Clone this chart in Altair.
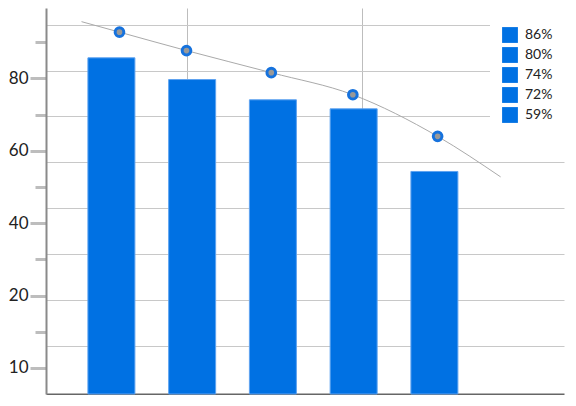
import altair as alt
import pandas as pd

# ---- data ----
legend_labels = ["86%", "80%", "74%", "72%", "59%"]
bar_pos = [1, 2, 3, 4, 5]
bar_values = [85.7, 79.7, 74.1, 71.6, 54.3]

line_x = [0.63, 1.10, 1.93, 2.98, 3.99, 5.04, 5.82]
line_y = [95.7, 92.8, 87.7, 81.6, 75.5, 64.0, 52.8]

point_x = [1.10, 1.93, 2.98, 3.99, 5.04]
point_y = [92.8, 87.7, 81.6, 75.5, 64.0]

major_ticks = [0, 20, 40, 60, 80]
major_labels = ["10", "20", "40", "60", "80"]
minor_ticks = [10, 30, 50, 70, 90]

hgrid_values = [94.9, 82.1, 69.6, 56.8, 44.3, 31.5, 18.9, 6.1]
vgrid_values = [1.93, 4.10]

y_domain = [-7.2, 99.47]
x_domain = [0.19, 6.605]

BLUE = "#0071e3"

bars_df = pd.DataFrame({"pos": bar_pos, "value": bar_values, "label": legend_labels})
line_df = pd.DataFrame({"x": line_x, "y": line_y})
pts_df = pd.DataFrame({"x": point_x, "y": point_y})

xs = alt.Scale(domain=x_domain, nice=False, zero=False, padding=0)
ys = alt.Scale(domain=y_domain, nice=False, zero=False)

label_expr = " : ".join(
    [f"datum.value === {v} ? '{l}'" for v, l in zip(major_ticks, major_labels)]
) + " : ''"

main_y_axis = alt.Axis(
    orient="left",
    values=sorted(major_ticks + minor_ticks),
    labelExpr=label_expr,
    tickSize={"condition": {"test": "datum.value % 20 === 0", "value": 16}, "value": 11},
    tickColor="#bdbdbd",
    tickWidth=3,
    domainColor="#8a8a8a",
    domainWidth=2,
    grid=False,
    labelFont="Lato",
    labelFontSize=17,
    labelColor="#222222",
    labelPadding=2,
    minExtent=0,
    title=None,
)

main_x_axis = alt.Axis(
    orient="bottom",
    domain=True,
    domainColor="#666666",
    domainWidth=2,
    ticks=False,
    labels=False,
    grid=False,
    minExtent=0,
    title=None,
)

grid_y_axis = alt.Axis(
    orient="right",
    values=hgrid_values,
    grid=True,
    gridColor="#c8c8c8",
    gridWidth=1,
    domain=False,
    ticks=False,
    labels=False,
    minExtent=0,
    title=None,
)

grid_x_axis = alt.Axis(
    orient="top",
    values=vgrid_values,
    grid=True,
    gridColor="#bdbdbd",
    gridWidth=1,
    domain=False,
    ticks=False,
    labels=False,
    minExtent=0,
    title=None,
)

bars = alt.Chart(bars_df).mark_bar(
    size=47, stroke="#5ea3f0", strokeWidth=1
).encode(
    x=alt.X("pos:Q", scale=xs, axis=main_x_axis),
    y=alt.Y("value:Q", scale=ys, axis=main_y_axis),
    y2=alt.datum(y_domain[0]),
    color=alt.Color(
        "label:N",
        scale=alt.Scale(domain=legend_labels, range=[BLUE] * len(legend_labels)),
        sort=legend_labels,
        legend=alt.Legend(
            orient="none",
            legendX=444,
            legendY=7,
            fillColor="white",
            padding=12,
            symbolType="square",
            symbolSize=250,
            symbolStrokeWidth=0,
            symbolOpacity=1,
            labelFont="Lato",
            labelFontSize=14,
            labelColor="#222222",
            labelOffset=7,
            rowPadding=4,
            title=None,
        ),
    ),
)

line = alt.Chart(line_df).mark_line(
    color="#aaaaaa", strokeWidth=1, interpolate="monotone"
).encode(
    x=alt.X("x:Q", scale=xs, axis=grid_x_axis),
    y=alt.Y("y:Q", scale=ys, axis=grid_y_axis),
)

points = alt.Chart(pts_df).mark_circle(
    fill="#999999", stroke="#1672dd", strokeWidth=3, size=75, opacity=1
).encode(
    x=alt.X("x:Q", scale=xs, axis=None),
    y=alt.Y("y:Q", scale=ys, axis=None),
)

chart = alt.layer(bars, line, points).resolve_axis(
    x="independent", y="independent"
).properties(
    width=518,
    height=386,
    padding={"left": 0, "top": 0, "right": 0, "bottom": 0},
    background="white",
).configure_view(stroke=None)

chart.save("out.html", embed_options={"renderer": "svg", "actions": False})
